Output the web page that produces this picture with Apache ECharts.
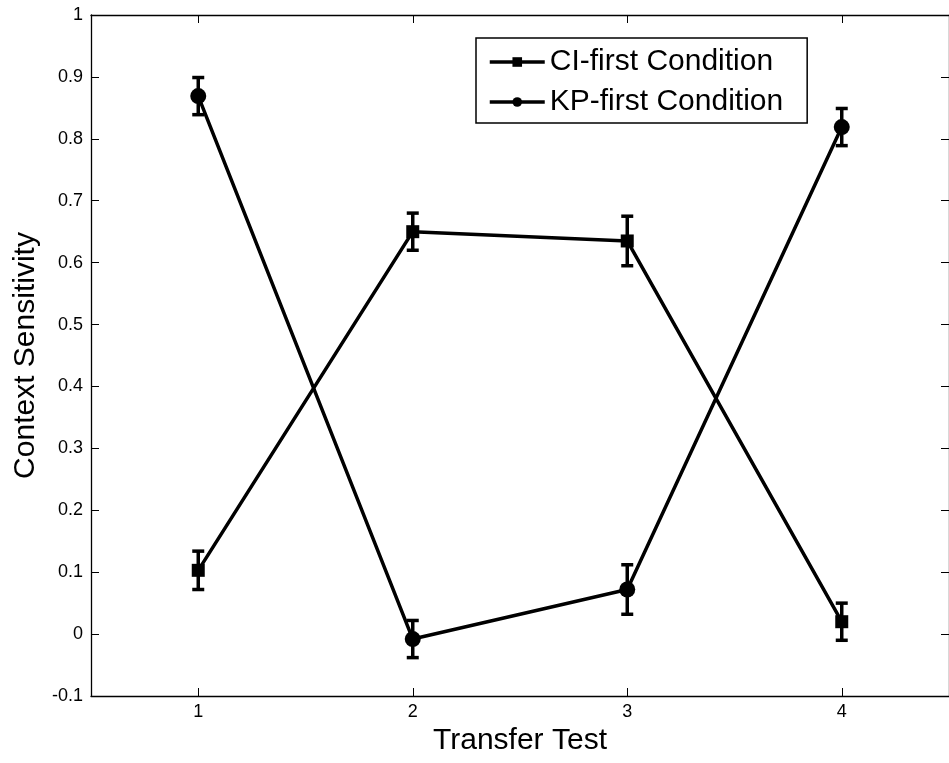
<!DOCTYPE html>
<html>
<head>
<meta charset="utf-8">
<script src="https://cdn.jsdelivr.net/npm/echarts@6/dist/echarts.min.js"></script>
<style>
  html, body { margin: 0; padding: 0; background: #fff; }
  #chart { width: 949px; height: 763px; }
</style>
</head>
<body>
<div id="chart"></div>
<script>
// context sensitivity per transfer test
const tests = ['1', '2', '3', '4'];
const ciMean = [0.103, 0.650, 0.635, 0.020];
const ciErr = [0.031, 0.030, 0.040, 0.030];
const kpMean = [0.869, -0.008, 0.072, 0.819];
const kpErr = [0.030, 0.030, 0.040, 0.030];

const font = "'Liberation Sans', Arial, sans-serif";

const errData = (mean, err) => mean.map((m, i) => [i, m - err[i], m + err[i]]);

const errorBars = (name, mean, err) => ({
	name: name,
	type: 'custom',
	data: errData(mean, err),
	z: 3,
	renderItem: (params, api) => {
		const lo = api.coord([api.value(0), api.value(1)]);
		const hi = api.coord([api.value(0), api.value(2)]);
		const w = 6;
		const style = { stroke: '#000', lineWidth: 3.5 };
		return {
			type: 'group',
			children: [
				{ type: 'line', shape: { x1: lo[0], y1: lo[1], x2: hi[0], y2: hi[1] }, style: style },
				{ type: 'line', shape: { x1: lo[0] - w, y1: lo[1], x2: lo[0] + w, y2: lo[1] }, style: style },
				{ type: 'line', shape: { x1: hi[0] - w, y1: hi[1], x2: hi[0] + w, y2: hi[1] }, style: style }
			]
		};
	}
});

const chart = echarts.init(document.getElementById('chart'));

const axisLine = { show: true, onZero: false, lineStyle: { color: '#000', width: 1.3 } };
const tick = { show: true, inside: true, length: 8, lineStyle: { color: '#000', width: 1 } };

const option = {
	backgroundColor: '#fff',
	animation: false,
	textStyle: { fontFamily: font },
	grid: { left: 91, top: 15, width: 864, bottom: 67, containLabel: false },
	legend: {
		orient: 'vertical',
		left: 476,
		top: 38,
		padding: [9, 24, 6, 12],
		itemGap: 10,
		itemWidth: 55,
		itemHeight: 12,
		borderColor: '#000',
		borderWidth: 1.5,
		backgroundColor: '#fff',
		lineStyle: { width: 3.5, color: '#000' },
		data: ['CI-first Condition', 'KP-first Condition'],
		textStyle: { fontFamily: font, fontSize: 30, color: '#000', lineHeight: 30 }
	},
	xAxis: [
		{
			type: 'category',
			data: tests,
			boundaryGap: true,
			name: 'Transfer Test',
			nameLocation: 'middle',
			nameGap: 30,
			nameTextStyle: { fontFamily: font, fontSize: 30, color: '#000' },
			axisLine: axisLine,
			axisTick: Object.assign({ alignWithLabel: true }, tick),
			axisLabel: { margin: 7, fontSize: 18, color: '#000', fontFamily: font },
			splitLine: { show: false }
		},
		{
			type: 'category',
			data: tests,
			position: 'top',
			boundaryGap: true,
			axisLine: axisLine,
			axisTick: Object.assign({ alignWithLabel: true }, tick),
			axisLabel: { show: false },
			splitLine: { show: false }
		}
	],
	yAxis: [
		{
			type: 'value',
			min: -0.1,
			max: 1,
			interval: 0.1,
			name: 'Context Sensitivity',
			nameLocation: 'middle',
			nameGap: 50,
			nameTextStyle: { fontFamily: font, fontSize: 30, color: '#000' },
			axisLine: axisLine,
			axisTick: tick,
			axisLabel: {
				margin: 8, fontSize: 18, color: '#000', fontFamily: font,
				formatter: v => String(Number(v.toFixed(1)))
			},
			splitLine: { show: false }
		},
		{
			type: 'value',
			min: -0.1,
			max: 1,
			interval: 0.1,
			position: 'right',
			axisLine: axisLine,
			axisTick: tick,
			axisLabel: { show: false },
			splitLine: { show: false }
		}
	],
	series: [
		{
			name: 'CI-first Condition',
			type: 'line',
			data: ciMean,
			symbol: 'rect',
			symbolSize: 13,
			z: 4,
			lineStyle: { color: '#000', width: 3.5 },
			itemStyle: { color: '#000' }
		},
		{
			name: 'KP-first Condition',
			type: 'line',
			data: kpMean,
			symbol: 'circle',
			symbolSize: 16,
			z: 4,
			lineStyle: { color: '#000', width: 3.5 },
			itemStyle: { color: '#000' }
		},
		errorBars('CI-first err', ciMean, ciErr),
		errorBars('KP-first err', kpMean, kpErr)
	]
};

chart.setOption(option);
</script>
</body>
</html>
